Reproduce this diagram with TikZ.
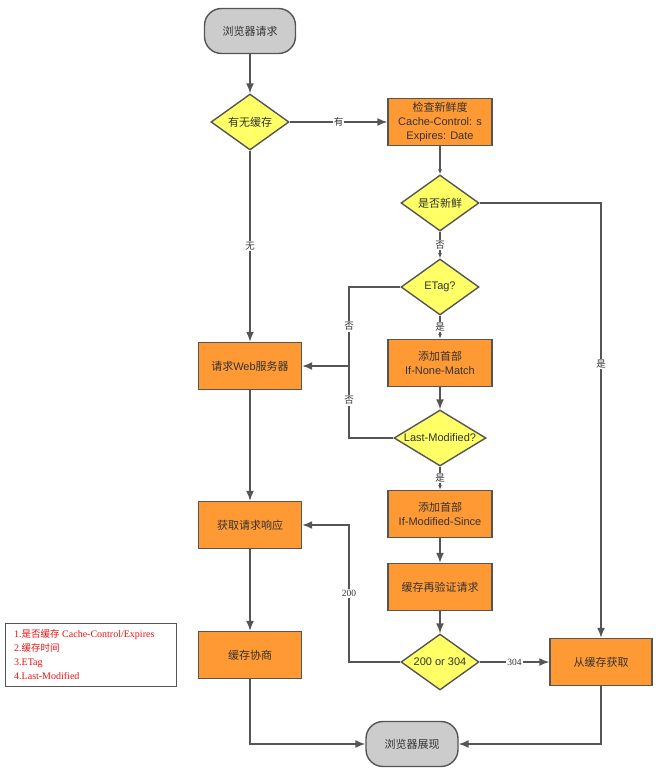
\documentclass[tikz,border=0pt]{standalone}
\usepackage{fontspec}
\setmainfont{Liberation Sans}
\newfontfamily\cjk{Noto Sans CJK SC}
\newfontfamily\serifed{Liberation Serif}
\usetikzlibrary{shapes.geometric,arrows.meta}
\definecolor{orangefill}{HTML}{FF9933}
\definecolor{yellowfill}{HTML}{FFFF66}
\definecolor{greyfill}{HTML}{CCCCCC}
\definecolor{edgegray}{HTML}{555555}
\definecolor{txtdark}{HTML}{333333}
\definecolor{legendred}{HTML}{EE1111}
\begin{document}
\begin{tikzpicture}[x=1pt,y=-1pt,
  boxnode/.style={rectangle,draw=edgegray,fill=orangefill,line width=1.4pt,
    minimum width=104pt,minimum height=47pt,inner sep=0pt,align=center,
    text=txtdark,font=\fontsize{11}{14}\selectfont},
  termnode/.style={rectangle,rounded corners=17pt,draw=edgegray,fill=greyfill,line width=1.4pt,
    minimum width=91pt,minimum height=45pt,inner sep=0pt,align=center,
    text=txtdark,font=\fontsize{11}{14}\selectfont},
  diam/.style={diamond,draw=edgegray,fill=yellowfill,line width=1.4pt,
    minimum width=78pt,minimum height=56pt,inner sep=0pt},
  dlabel/.style={label={[text=txtdark,font=\fontsize{11}{14}\selectfont]center:#1}},
  conn/.style={draw=edgegray,line width=1.5pt,-{Latex[length=10pt,width=8pt]}},
  sconn/.style={draw=edgegray,line width=1.5pt,-{Latex[length=5pt,width=4pt]}},
  plainline/.style={draw=edgegray,line width=1.5pt},
  lbl/.style={fill=white,inner sep=1pt,text=txtdark,font=\fontsize{9.5}{9.5}\selectfont},
]
\useasboundingbox (0,0) rectangle (661,768);

% nodes
\node[termnode] (start) at (250,31) {\cjk 浏览器请求};
\node[diam,dlabel={\cjk 有无缓存}] (hascache) at (250,122) {};
\node[boxnode] (check) at (440,122) {{\cjk 检查新鲜度}\\Cache-Control: s\\Expires: Date};
\node[diam,dlabel={\cjk 是否新鲜}] (fresh) at (440,203) {};
\node[diam,dlabel={ETag?}] (etag) at (440,287) {};
\node[boxnode] (addinm) at (440,363) {{\cjk 添加首部}\\If-None-Match};
\node[diam,minimum width=92pt,dlabel={Last-Modified?}] (lm) at (440,438) {};
\node[boxnode] (addims) at (440,514) {{\cjk 添加首部}\\If-Modified-Since};
\node[boxnode] (reval) at (440,587) {\cjk 缓存再验证请求};
\node[diam,dlabel={200 or 304}] (code) at (440,662) {};
\node[boxnode,minimum width=102pt] (fromcache) at (601,662) {\cjk 从缓存获取};
\node[termnode,minimum width=92pt] (show) at (412,744) {\cjk 浏览器展现};
\node[boxnode,minimum width=103pt] (web) at (250,366) {{\cjk 请求}Web{\cjk 服务器}};
\node[boxnode,minimum width=103pt] (get) at (250,525) {\cjk 获取请求响应};
\node[boxnode,minimum width=103pt] (nego) at (250,655) {\cjk 缓存协商};

\coordinate (j) at (349,366);
\coordinate (k) at (349,525);

% legend
\node[rectangle,draw=edgegray,line width=1.4pt,fill=white,minimum width=171pt,minimum height=63pt,
  anchor=north west,inner sep=0pt] (legend) at (5,623) {};
\node[anchor=west,align=left,inner sep=0pt,text=legendred,
  font=\serifed\fontsize{10}{14}\selectfont] (legendtxt) at (14,655)
  {1.{\cjk\fontsize{9.5}{14}\selectfont 是否缓存} Cache-Control/Expires\\
   2.{\cjk\fontsize{9.5}{14}\selectfont 缓存时间}\\
   3.ETag\\
   4.Last-Modified};

% connectors
\draw[conn] (start) -- (hascache);
\draw[conn] (hascache.east) -- node[lbl]{\cjk 有} (check.west);
\draw[conn] (hascache.south) -- node[lbl]{\cjk 无} (web.north);
\draw[sconn] (check.south) -- (fresh.north);
\draw[sconn] (fresh.south) -- node[lbl]{\cjk 否} (etag.north);
\draw[conn] (fresh.east) -| node[lbl,pos=0.685]{\cjk 是} (fromcache.north);
\draw[sconn] (etag.south) -- node[lbl]{\cjk 是} (addinm.north);
\draw[conn] (etag.west) -| node[lbl,pos=0.75]{\cjk 否} (j) -- (web.east);
\draw[conn] (addinm.south) -- (lm.north);
\draw[plainline] (lm.west) -| node[lbl,pos=0.76]{\cjk 否} (j);
\draw[sconn] (lm.south) -- node[lbl]{\cjk 是} (addims.north);
\draw[conn] (addims.south) -- (reval.north);
\draw[conn] (reval.south) -- (code.north);
\draw[conn] (code.east) -- node[lbl]{\serifed 304} (fromcache.west);
\draw[conn] (code.west) -| node[lbl,pos=0.75]{\serifed 200} (k) -- (get.east);
\draw[conn] (web.south) -- (get.north);
\draw[conn] (get.south) -- (nego.north);
\draw[conn] (nego.south) |- (show.west);
\draw[conn] (fromcache.south) |- (show.east);
\end{tikzpicture}
\end{document}
